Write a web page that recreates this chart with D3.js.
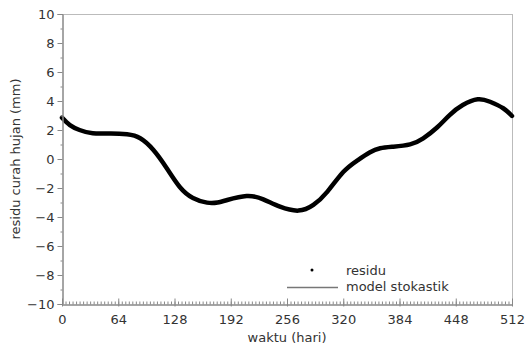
<!DOCTYPE html>
<html><head><meta charset="utf-8">
<script src="https://cdn.jsdelivr.net/npm/d3@7"></script>
<style>body{margin:0;background:#fff}svg{display:block}text{font-family:"DejaVu Sans",sans-serif}</style>
</head><body>
<svg id="c" width="525" height="349"></svg>
<script>
// days (hari) and residu values (mm)
const days    = [0, 9, 20, 35, 55, 74, 89, 104, 119, 134, 149, 165, 177, 188, 210, 229, 248, 269, 286, 302, 320, 336, 350, 362, 377, 396, 411, 427, 441, 456, 473, 487, 502, 512];
const residu  = [2.85, 2.34, 2.0, 1.77, 1.76, 1.70, 1.43, 0.62, -0.62, -1.93, -2.69, -3.01, -3.0, -2.83, -2.55, -2.78, -3.29, -3.56, -3.17, -2.25, -0.9, -0.1, 0.45, 0.74, 0.85, 1.01, 1.43, 2.19, 3.03, 3.72, 4.12, 3.95, 3.5, 2.97];
const model   = residu.slice();
const xTicks  = [0, 64, 128, 192, 256, 320, 384, 448, 512];
const yTicks  = [-10, -8, -6, -4, -2, 0, 2, 4, 6, 8, 10];
const legendLabels = ["residu", "model stokastik"];

const svg = d3.select("#c");
const L = 62, R = 512, T = 14, B = 304;
const x = d3.scaleLinear().domain([0, 512]).range([L, R]);
const y = d3.scaleLinear().domain([-10, 10]).range([B, T]);
const axisCol = "#888", textCol = "#333";

// frame top/right
svg.append("line").attr("x1", L).attr("x2", R).attr("y1", T + .5).attr("y2", T + .5).attr("stroke", "#bbb");
svg.append("line").attr("x1", R + .5).attr("x2", R + .5).attr("y1", T).attr("y2", B).attr("stroke", "#bbb");

const pts = days.map((d, i) => [d, residu[i]]);
const line = d3.line().x(d => x(d[0])).y(d => y(d[1])).curve(d3.curveNatural);
const g = svg.append("g");
g.append("path").attr("d", line(days.map((d, i) => [d, model[i]]))).attr("fill", "none").attr("stroke", "#777").attr("stroke-width", 1.5);
g.append("path").attr("d", line(pts)).attr("fill", "none").attr("stroke", "#000").attr("stroke-width", 4.5).attr("stroke-linecap", "round");

// y axis
const yAx = svg.append("g").attr("transform", `translate(${L + .5},0)`)
  .call(d3.axisLeft(y).tickValues(d3.range(-9, 10, 2)).tickSize(2).tickFormat(""));
const yMaj = svg.append("g").attr("transform", `translate(${L + .5},0)`)
  .call(d3.axisLeft(y).tickValues(yTicks).tickSize(5).tickPadding(3).tickFormat(d => d < 0 ? "\u2212" + Math.abs(d) : d));
[yAx, yMaj].forEach(a => {
  a.selectAll("path,line").attr("stroke", axisCol);
  a.selectAll("text").attr("fill", textCol).style("font-size", "13px").style("font-family", "DejaVu Sans");
});

// x axis: minor ticks inside
const xMin = svg.append("g").attr("transform", `translate(0,${B + .5})`)
  .call(d3.axisTop(x).tickValues(d3.range(0, 513, 4)).tickSize(3).tickFormat(""));
const xMaj = svg.append("g").attr("transform", `translate(0,${B + .5})`)
  .call(d3.axisBottom(x).tickValues(xTicks).tickSize(0).tickPadding(10));
xMaj.selectAll(".tick").append("line").attr("y1", -6).attr("y2", 2);
[xMin, xMaj].forEach(a => {
  a.selectAll("path,line").attr("stroke", axisCol);
  a.selectAll("text").attr("fill", textCol).style("font-size", "13px").style("font-family", "DejaVu Sans");
});

// axis labels
svg.append("text").attr("x", (L + R) / 2).attr("y", 342).attr("text-anchor", "middle")
  .attr("fill", textCol).style("font-size", "13px").text("waktu (hari)");
svg.append("text").attr("transform", `translate(20,${(T + B) / 2}) rotate(-90)`).attr("text-anchor", "middle")
  .attr("fill", textCol).style("font-size", "13px").text("residu curah hujan (mm)");

// legend
const lg = svg.append("g");
lg.append("circle").attr("cx", 312).attr("cy", 270).attr("r", 1.5).attr("fill", "#000");
lg.append("line").attr("x1", 287).attr("x2", 338).attr("y1", 287.5).attr("y2", 287.5).attr("stroke", "#777").attr("stroke-width", 1.5);
lg.selectAll("text.lg").data(legendLabels).join("text").attr("class", "lg")
  .attr("x", 346).attr("y", (d, i) => 275 + i * 16).attr("fill", textCol).style("font-size", "13px").text(d => d);
</script>
</body></html>
